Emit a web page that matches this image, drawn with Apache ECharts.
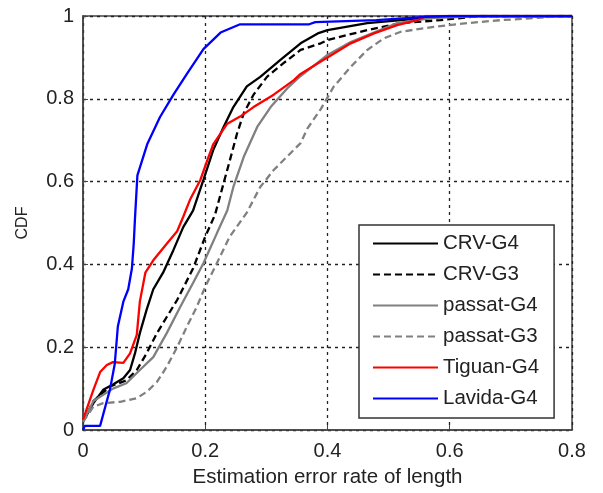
<!DOCTYPE html>
<html>
<head>
<meta charset="utf-8">
<script src="https://cdn.jsdelivr.net/npm/echarts@6/dist/echarts.min.js"></script>
<style>
html,body{margin:0;padding:0;background:#fff;}
#chart{width:603px;height:493px;}
</style>
</head>
<body>
<div id="chart"></div>
<script>
var seriesNames = ['CRV-G4', 'CRV-G3', 'passat-G4', 'passat-G3', 'Tiguan-G4', 'Lavida-G4'];
var xTicks = [0, 0.2, 0.4, 0.6, 0.8];
var yTicks = [0, 0.2, 0.4, 0.6, 0.8, 1];

var crvG4 = [[0,0.02],[0.017,0.065],[0.033,0.097],[0.049,0.11],[0.066,0.125],[0.077,0.145],[0.085,0.185],[0.093,0.234],[0.104,0.29],[0.115,0.34],[0.131,0.38],[0.148,0.435],[0.164,0.49],[0.18,0.53],[0.197,0.604],[0.213,0.676],[0.23,0.732],[0.246,0.78],[0.268,0.83],[0.29,0.853],[0.323,0.894],[0.356,0.934],[0.384,0.958],[0.4,0.966],[0.465,0.983],[0.52,0.99],[0.6,1],[0.8,1]];
var crvG3 = [[0,0.02],[0.017,0.07],[0.044,0.105],[0.071,0.12],[0.088,0.145],[0.104,0.185],[0.121,0.234],[0.137,0.273],[0.154,0.314],[0.18,0.39],[0.2,0.467],[0.216,0.52],[0.23,0.596],[0.24,0.65],[0.252,0.716],[0.263,0.765],[0.279,0.81],[0.301,0.853],[0.328,0.886],[0.356,0.918],[0.389,0.934],[0.4,0.942],[0.465,0.966],[0.52,0.983],[0.585,0.99],[0.65,1],[0.8,1]];
var passatG4 = [[0,0.02],[0.017,0.07],[0.049,0.1],[0.071,0.113],[0.093,0.145],[0.115,0.176],[0.137,0.234],[0.159,0.297],[0.18,0.355],[0.197,0.403],[0.219,0.475],[0.236,0.53],[0.246,0.587],[0.263,0.66],[0.285,0.732],[0.307,0.78],[0.334,0.825],[0.356,0.855],[0.4,0.906],[0.438,0.937],[0.476,0.96],[0.514,0.983],[0.57,0.995],[0.65,1],[0.8,1]];
var passatG3 = [[0,0.02],[0.017,0.056],[0.033,0.065],[0.061,0.068],[0.088,0.077],[0.104,0.092],[0.121,0.116],[0.137,0.153],[0.154,0.2],[0.17,0.25],[0.186,0.297],[0.2,0.346],[0.219,0.403],[0.24,0.467],[0.268,0.525],[0.29,0.587],[0.312,0.628],[0.339,0.668],[0.356,0.693],[0.367,0.728],[0.389,0.775],[0.41,0.829],[0.438,0.877],[0.465,0.918],[0.492,0.946],[0.52,0.962],[0.574,0.974],[0.63,0.983],[0.684,0.99],[0.74,0.995],[0.78,1],[0.8,1]];
var tiguanG4 = [[0,0.025],[0.017,0.097],[0.028,0.14],[0.039,0.157],[0.049,0.164],[0.066,0.162],[0.077,0.185],[0.088,0.23],[0.093,0.31],[0.102,0.38],[0.115,0.41],[0.137,0.45],[0.154,0.48],[0.164,0.515],[0.175,0.556],[0.192,0.604],[0.203,0.65],[0.213,0.69],[0.236,0.74],[0.257,0.757],[0.279,0.78],[0.312,0.81],[0.345,0.845],[0.356,0.86],[0.389,0.89],[0.4,0.9],[0.438,0.934],[0.476,0.958],[0.514,0.978],[0.547,0.99],[0.56,1],[0.8,1]];
var lavidaG4 = [[0,0],[0.003,0.01],[0.028,0.01],[0.039,0.07],[0.044,0.097],[0.052,0.16],[0.057,0.25],[0.066,0.31],[0.074,0.34],[0.08,0.39],[0.083,0.45],[0.085,0.51],[0.089,0.615],[0.105,0.69],[0.126,0.756],[0.148,0.81],[0.17,0.86],[0.197,0.92],[0.225,0.96],[0.257,0.98],[0.37,0.98],[0.38,0.985],[0.48,0.99],[0.56,0.998],[0.6,1],[0.8,1]];

var seriesData = [crvG4, crvG3, passatG4, passatG3, tiguanG4, lavidaG4];
var seriesColors = ['#000000', '#000000', '#808080', '#808080', '#ff0000', '#0000ff'];
var seriesDash = ['solid', [7,4], 'solid', [7,4], 'solid', 'solid'];

var FONT = '"Liberation Sans", Arial, sans-serif';
var chart = echarts.init(document.getElementById('chart'));

var series = seriesNames.map(function (name, i) {
  return {
    name: name,
    type: 'line',
    data: seriesData[i],
    symbol: 'none',
    smooth: false,
    z: 3 + i,
    lineStyle: { color: seriesColors[i], width: 2.3, type: seriesDash[i] },
    itemStyle: { color: seriesColors[i] }
  };
});

var gridLine = { show: true, lineStyle: { color: '#222', width: 1.3, type: [3, 4] } };

chart.setOption({
  animation: false,
  backgroundColor: '#fff',
  grid: { left: 83, right: 31, top: 16, bottom: 63, show: true, borderColor: '#444', borderWidth: 1.5, backgroundColor: 'transparent' },
  xAxis: {
    type: 'value', min: xTicks[0], max: xTicks[xTicks.length - 1], interval: 0.2,
    name: 'Estimation error rate of length', nameLocation: 'middle', nameGap: 37,
    nameTextStyle: { fontFamily: FONT, fontSize: 20.5, color: '#222' },
    axisLine: { show: true, lineStyle: { color: '#444', width: 1.5 } },
    axisTick: { show: true, inside: true, length: 5, lineStyle: { color: '#444' } },
    axisLabel: { fontFamily: FONT, fontSize: 20, color: '#222', margin: 11,
      formatter: function (v) { return String(Math.round(v * 10) / 10); } },
    splitLine: gridLine
  },
  yAxis: {
    type: 'value', min: yTicks[0], max: yTicks[yTicks.length - 1], interval: 0.2,
    name: 'CDF', nameLocation: 'middle', nameGap: 52, nameRotate: 90,
    nameTextStyle: { fontFamily: FONT, fontSize: 16, color: '#222' },
    axisLine: { show: true, lineStyle: { color: '#444', width: 1.5 } },
    axisTick: { show: true, inside: true, length: 5, lineStyle: { color: '#444' } },
    axisLabel: { fontFamily: FONT, fontSize: 20, color: '#222', margin: 9,
      formatter: function (v) { return String(Math.round(v * 10) / 10); } },
    splitLine: gridLine
  },
  legend: {
    orient: 'vertical', left: 359, top: 225,
    data: seriesNames,
    itemWidth: 65, itemHeight: 14, itemGap: 10,
    padding: [8, 15, 9, 13],
    itemStyle: { opacity: 0 },
    backgroundColor: '#fff', borderColor: '#333', borderWidth: 1.5,
    textStyle: { fontFamily: FONT, fontSize: 20.5, color: '#222', lineHeight: 20 }
  },
  series: series
});
</script>
</body>
</html>
